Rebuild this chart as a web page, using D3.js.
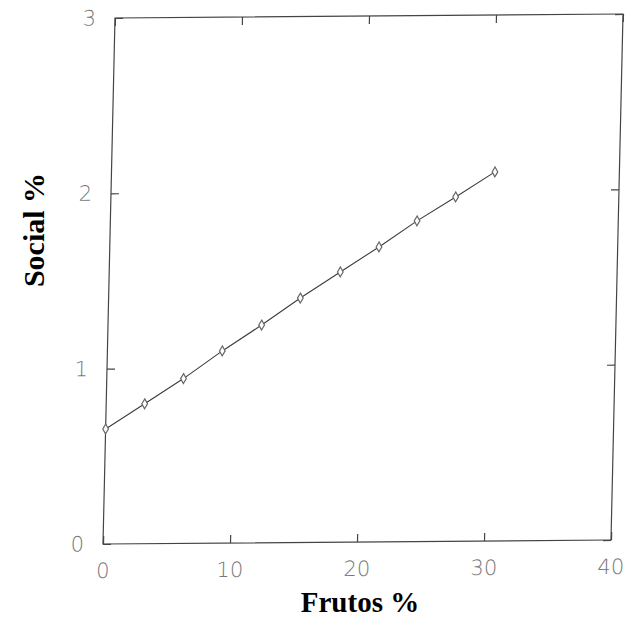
<!DOCTYPE html>
<html>
<head>
<meta charset="utf-8">
<script src="https://cdn.jsdelivr.net/npm/d3@7"></script>
<style>
  body { margin: 0; background: #fff; }
  .tick text { font-family: "DejaVu Sans", "Liberation Sans", sans-serif; font-weight: 200; fill: #777; }
</style>
</head>
<body>
<svg id="chart" width="627" height="631"></svg>
<script>
// values
const frutos = [0, 3.03, 6.04, 9.05, 12.1, 15.1, 18.2, 21.2, 24.15, 27.15, 30.2];
const social = [0.656, 0.798, 0.94, 1.096, 1.242, 1.394, 1.541, 1.682, 1.829, 1.964, 2.105];
const xTicks = [0, 10, 20, 30, 40];
const yTicks = [0, 1, 2, 3];

let svg = d3.select('#chart'),
    W = 508,
    H = 526;

// the scan is slightly sheared, so the plot frame gets a matrix
let plot = svg.append('g')
    .attr('transform', 'matrix(1,' + (-4 / W) + ',' + (-12 / H) + ',1,115,18)');

let x = d3.scaleLinear().domain([0, 40]).range([0, W]);
let y = d3.scaleLinear().domain([0, 3]).range([H, 0]);

plot.append('rect')
    .attr('width', W).attr('height', H)
    .attr('fill', 'none').attr('stroke', '#444').attr('stroke-width', 1.2);

function styleAxis(g) {
    g.select('.domain').remove();
    g.selectAll('.tick line').attr('stroke', '#444').attr('stroke-width', 1.2);
    g.selectAll('.tick text').attr('font-size', 21);
}

plot.append('g')
    .attr('transform', 'translate(0,' + H + ')')
    .call(d3.axisBottom(x).tickValues(xTicks).tickFormat(d3.format('d')).tickSize(-8).tickPadding(19))
    .call(styleAxis);

plot.append('g')
    .call(d3.axisTop(x).tickValues(xTicks).tickFormat('').tickSize(-8))
    .call(styleAxis);

plot.append('g')
    .call(d3.axisLeft(y).tickValues(yTicks).tickFormat(d3.format('d')).tickSize(-8).tickPadding(19))
    .call(styleAxis);

plot.append('g')
    .attr('transform', 'translate(' + W + ',0)')
    .call(d3.axisRight(y).tickValues(yTicks).tickFormat('').tickSize(-8))
    .call(styleAxis);

let pts = frutos.map((f, i) => [f, social[i]]);

plot.append('path')
    .datum(pts)
    .attr('fill', 'none')
    .attr('stroke', '#3a3a3a')
    .attr('stroke-width', 1.1)
    .attr('d', d3.line().x(d => x(d[0])).y(d => y(d[1])));

plot.selectAll('.mk')
    .data(pts)
    .enter().append('path')
    .classed('mk', true)
    .attr('transform', d => 'translate(' + x(d[0]) + ',' + y(d[1]) + ')')
    .attr('d', d3.symbol().type(d3.symbolDiamond).size(28))
    .attr('fill', '#fff')
    .attr('stroke', '#666')
    .attr('stroke-width', 1.2);

// axis titles
svg.append('text')
    .attr('x', 360).attr('y', 612)
    .attr('text-anchor', 'middle')
    .attr('font-family', '"Liberation Serif", "Times New Roman", serif')
    .attr('font-weight', 'bold')
    .attr('font-size', 29)
    .attr('fill', '#000')
    .text('Frutos %');

svg.append('text')
    .attr('transform', 'translate(44,230) rotate(-90)')
    .attr('text-anchor', 'middle')
    .attr('font-family', '"Liberation Serif", "Times New Roman", serif')
    .attr('font-weight', 'bold')
    .attr('font-size', 30)
    .attr('fill', '#000')
    .text('Social %');
</script>
</body>
</html>
